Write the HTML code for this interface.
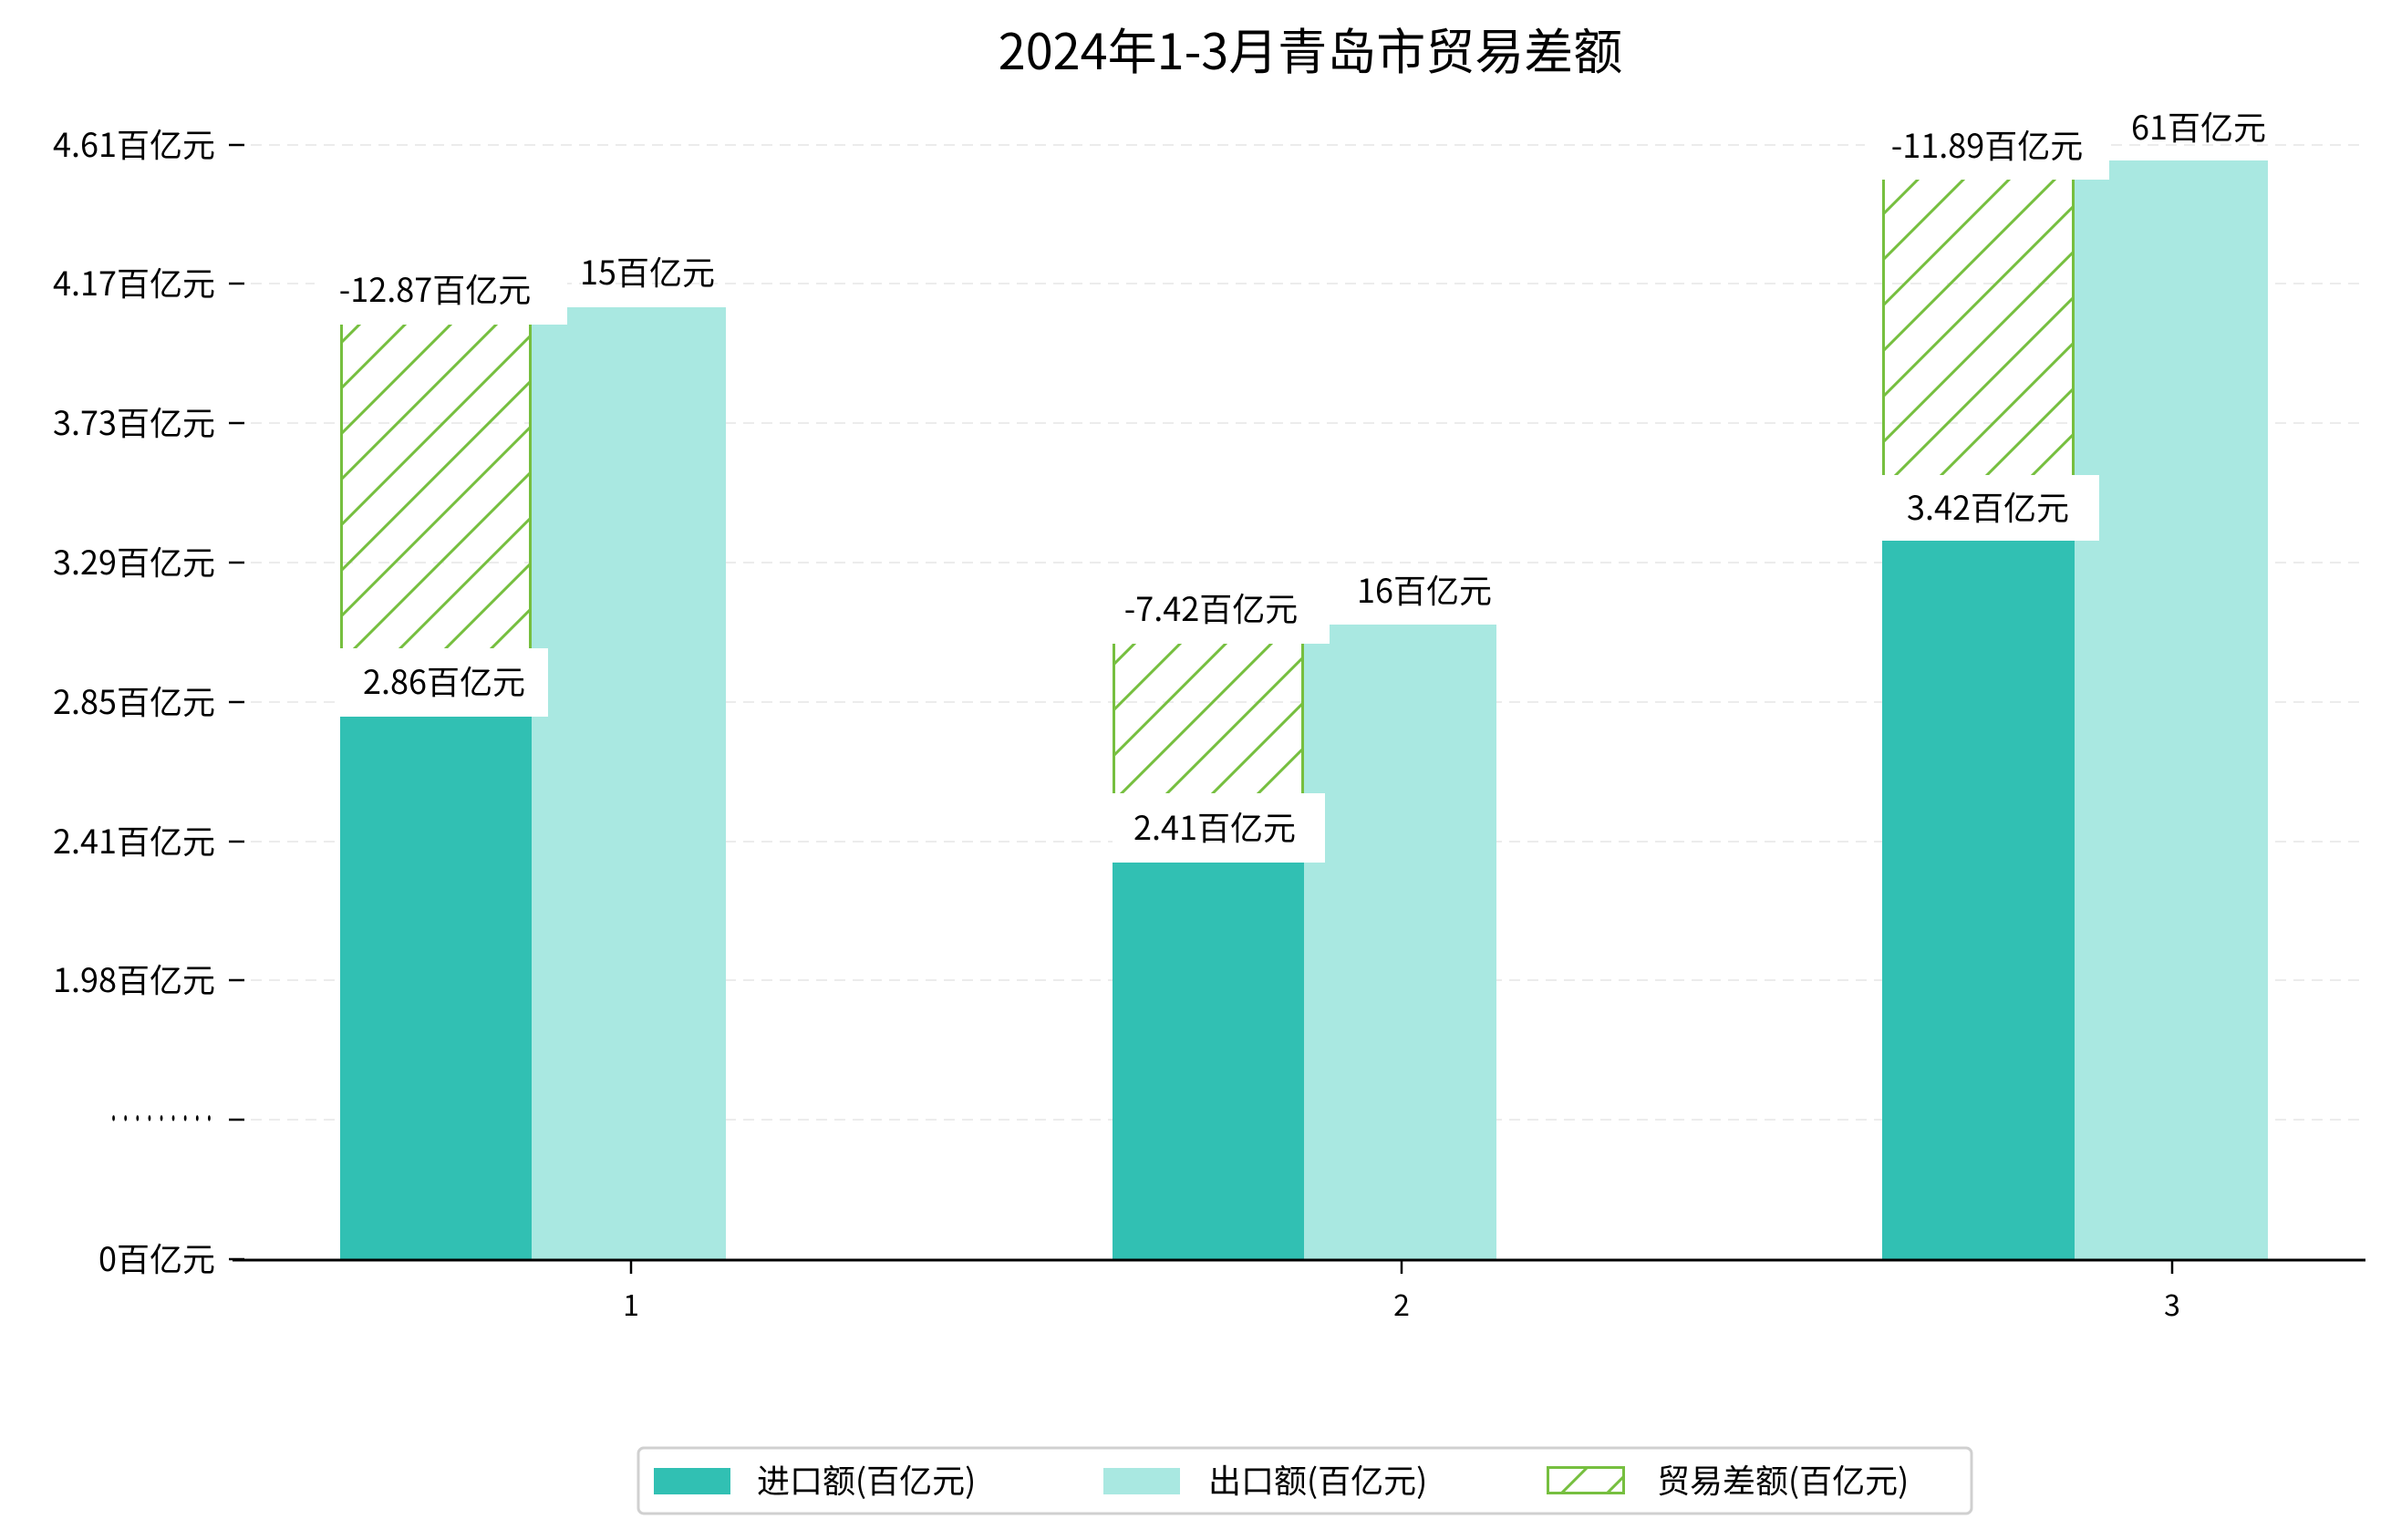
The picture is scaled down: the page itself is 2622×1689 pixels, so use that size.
<!DOCTYPE html>
<html><head><meta charset="utf-8"><style>body{margin:0;background:#fff}svg{display:block}text{font-family:"WenQuanYi Zen Hei","Noto Sans CJK SC",sans-serif;fill:#000}</style></head>
<body>
<svg width="2622" height="1689" viewBox="0 0 2622 1689" xmlns="http://www.w3.org/2000/svg">
<defs>
<pattern id="h" patternUnits="userSpaceOnUse" width="50" height="50">
<line x1="-5" y1="55" x2="55" y2="-5" stroke="#76bf3f" stroke-width="3"/>
<line x1="-30" y1="30" x2="30" y2="-30" stroke="#76bf3f" stroke-width="3"/>
<line x1="20" y1="80" x2="80" y2="20" stroke="#76bf3f" stroke-width="3"/>
</pattern>
</defs>
<text x="1437" y="76" font-size="54" text-anchor="middle">2024年1-3月青岛市贸易差额</text>
<g stroke="#ececec" stroke-width="2" stroke-dasharray="12,8">
<line x1="255" y1="159" x2="2594" y2="159"/><line x1="255" y1="311" x2="2594" y2="311"/>
<line x1="255" y1="464" x2="2594" y2="464"/><line x1="255" y1="617" x2="2594" y2="617"/>
<line x1="255" y1="770" x2="2594" y2="770"/><line x1="255" y1="923" x2="2594" y2="923"/>
<line x1="255" y1="1075" x2="2594" y2="1075"/><line x1="255" y1="1228" x2="2594" y2="1228"/>
</g>
<g font-size="36" text-anchor="end">
<text x="236" y="172">4.61百亿元</text><text x="236" y="324">4.17百亿元</text>
<text x="236" y="477">3.73百亿元</text><text x="236" y="630">3.29百亿元</text>
<text x="236" y="783">2.85百亿元</text><text x="236" y="936">2.41百亿元</text>
<text x="236" y="1088">1.98百亿元</text>
<text x="236" y="1394">0百亿元</text>
</g>
<text x="118" y="1238" font-size="30" textLength="118" lengthAdjust="spacingAndGlyphs">·········</text>
<g stroke="#000" stroke-width="2.5">
<line x1="251" y1="159" x2="268" y2="159"/><line x1="251" y1="311" x2="268" y2="311"/>
<line x1="251" y1="464" x2="268" y2="464"/><line x1="251" y1="617" x2="268" y2="617"/>
<line x1="251" y1="770" x2="268" y2="770"/><line x1="251" y1="923" x2="268" y2="923"/>
<line x1="251" y1="1075" x2="268" y2="1075"/><line x1="251" y1="1228" x2="268" y2="1228"/>
<line x1="251" y1="1381" x2="268" y2="1381"/>
</g>
<!-- bars -->
<rect x="373" y="786" width="210" height="595" fill="#31c0b3"/>
<rect x="583" y="337" width="213" height="1044" fill="#a9e8e1"/>
<rect x="374.5" y="356" width="207" height="430" fill="url(#h)"/>
<g stroke="#76bf3f" stroke-width="3"><line x1="374.5" y1="356" x2="374.5" y2="786"/><line x1="581.5" y1="356" x2="581.5" y2="786"/></g>
<rect x="1220" y="946" width="210" height="435" fill="#31c0b3"/>
<rect x="1430" y="685" width="211" height="696" fill="#a9e8e1"/>
<rect x="1221.5" y="706" width="207" height="240" fill="url(#h)"/>
<g stroke="#76bf3f" stroke-width="3"><line x1="1221.5" y1="706" x2="1221.5" y2="946"/><line x1="1428.5" y1="706" x2="1428.5" y2="946"/></g>
<rect x="2064" y="593" width="211" height="788" fill="#31c0b3"/>
<rect x="2275" y="176" width="212" height="1205" fill="#a9e8e1"/>
<rect x="2065.5" y="197" width="208" height="396" fill="url(#h)"/>
<g stroke="#76bf3f" stroke-width="3"><line x1="2065.5" y1="197" x2="2065.5" y2="593"/><line x1="2273.5" y1="197" x2="2273.5" y2="593"/></g>
<!-- label boxes -->
<g fill="#fff">
<rect x="373" y="711" width="228" height="75"/>
<rect x="345" y="282" width="277" height="74"/>
<rect x="1220" y="870" width="233" height="76"/>
<rect x="1205" y="632" width="253" height="74"/>
<rect x="2064" y="521" width="238" height="72"/>
<rect x="2045" y="124" width="268" height="73"/>
</g>
<g font-size="36" text-anchor="middle">
<text x="487" y="761">2.86百亿元</text>
<text x="477" y="331">-12.87百亿元</text>
<text x="710" y="312">15百亿元</text>
<text x="1332" y="921">2.41百亿元</text>
<text x="1328" y="681">-7.42百亿元</text>
<text x="1562" y="661">16百亿元</text>
<text x="2180" y="570">3.42百亿元</text>
<text x="2179" y="173">-11.89百亿元</text>
<text x="2411" y="153">61百亿元</text>
</g>
<line x1="255" y1="1382" x2="2594" y2="1382" stroke="#000" stroke-width="3"/>
<g stroke="#000" stroke-width="2.5">
<line x1="692" y1="1382" x2="692" y2="1397"/><line x1="1537" y1="1382" x2="1537" y2="1397"/><line x1="2382" y1="1382" x2="2382" y2="1397"/>
</g>
<g font-size="32" text-anchor="middle">
<text x="692" y="1443">1</text><text x="1537" y="1443">2</text><text x="2382" y="1443">3</text>
</g>
<rect x="700" y="1588" width="1462" height="72" rx="6" fill="#fff" stroke="#d0d0d0" stroke-width="3"/>
<rect x="717" y="1610" width="84" height="29" fill="#31c0b3"/>
<rect x="1210" y="1610" width="84" height="29" fill="#a9e8e1"/>
<rect x="1697.5" y="1609.5" width="83" height="28" fill="url(#h)" stroke="#76bf3f" stroke-width="3"/>
<g font-size="36">
<text x="830" y="1637">进口额(百亿元)</text>
<text x="1325" y="1637">出口额(百亿元)</text>
<text x="1817" y="1637">贸易差额(百亿元)</text>
</g>
</svg>
</body></html>
